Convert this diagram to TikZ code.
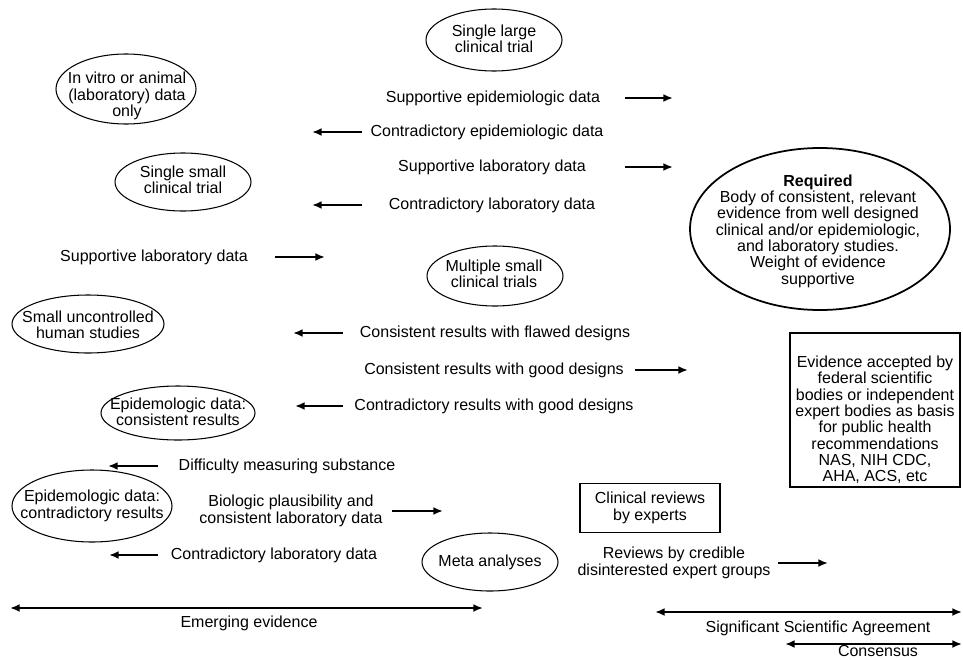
\documentclass[tikz,border=0pt]{standalone}
\usepackage{fontspec}
\setmainfont{Liberation Sans}
\usetikzlibrary{arrows.meta, calc}

\begin{document}
\begin{tikzpicture}[
    x=0.02cm, y=-0.02cm, >={Latex[length=5.5pt, width=4.5pt]},
    txt/.style={align=center, inner sep=0pt, font=\fontsize{9.1}{9.3}\selectfont},
    rim/.style={draw, line width=0.6pt},
    arr/.style={->, line width=1.1pt},
    span/.style={<->, line width=1.1pt},
    frame/.style={draw, line width=1.1pt}
]
    \useasboundingbox (0,0) rectangle (963,659);

    \node[txt] (large) at (494,39) {Single large\\clinical trial};
    \node[txt] (vitro) at (127,96) {In vitro or animal\\(laboratory) data\\only};
    \node[txt] (small) at (183,180) {Single small\\clinical trial};
    \node[txt] (multi) at (494,274) {Multiple small\\clinical trials};
    \node[txt] (human) at (88,325) {Small uncontrolled\\human studies};
    \node[txt] (epicon) at (178,412) {Epidemologic data:\\consistent results};
    \node[txt] (epicontra) at (92,506) {Epidemologic data:\\contradictory results};
    \node[txt] (meta) at (490,562) {Meta analyses};
    \node[txt] (req) at (818,231) {\textbf{Required}\\Body of consistent, relevant\\evidence from well designed\\clinical and/or epidemiologic,\\and laboratory studies.\\Weight of evidence\\supportive};

    \foreach \n/\dx/\dy/\rx/\ry in {large/0/1/68/31, vitro/-1/-7/70/35, small/0/2/68/29,
        multi/1/2/68/30, human/0/-1/76/29, epicon/0/1/77/27, epicontra/0/0/80/36,
        meta/0/0/68/29}
        \draw[rim] ($(\n)+(\dx,\dy)$) ellipse [x radius=\rx, y radius=\ry];
    \draw[rim, line width=1pt] ($(req)+(2,-2)$) ellipse [x radius=130, y radius=81];

    \node[txt] (accept) at (875,420) {Evidence accepted by\\federal scientific\\bodies or independent\\expert bodies as basis\\for public health\\recommendations\\NAS, NIH CDC,\\AHA, ACS, etc};
    \draw[frame] ($(accept)+(-85,-87)$) rectangle ($(accept)+(85,67)$);
    \node[txt, frame, minimum width=2.8cm, minimum height=0.98cm] (review) at (650,508) {Clinical reviews\\by experts};

    \node[txt] (sepi) at (493,98) {Supportive epidemiologic data};
    \node[txt] (cepi) at (487,132) {Contradictory epidemiologic data};
    \node[txt] (slab) at (492,167) {Supportive laboratory data};
    \node[txt] (clab) at (492,205) {Contradictory laboratory data};
    \node[txt] (slab2) at (154,257) {Supportive laboratory data};
    \node[txt] (flaw) at (495,333) {Consistent results with flawed designs};
    \node[txt] (good) at (494,370) {Consistent results with good designs};
    \node[txt] (cgood) at (494,406) {Contradictory results with good designs};
    \node[txt] (measure) at (287,466) {Difficulty measuring substance};
    \node[txt] (bio) at (291,511) {Biologic plausibility and\\consistent laboratory data};
    \node[txt] (clab2) at (274,555) {Contradictory laboratory data};
    \node[txt] (credible) at (674,563) {Reviews by credible\\disinterested expert groups};

    \coordinate (r1) at (625,0);
    \coordinate (r2) at (635,0);
    \coordinate (r3) at (275,0);
    \coordinate (r4) at (392,0);
    \coordinate (r5) at (778,0);
    \coordinate (l1) at (362,0);
    \coordinate (l2) at (343,0);
    \coordinate (l3) at (158,0);

    \draw[arr] (sepi -| r1) -- ++(48,0);
    \draw[arr] (slab -| r1) -- ++(48,0);
    \draw[arr] (good -| r2) -- ++(53,0);
    \draw[arr] (slab2 -| r3) -- ++(50,0);
    \draw[arr] (bio -| r4) -- ++(51,0);
    \draw[arr] (credible -| r5) -- ++(50,0);
    \draw[arr] (cepi -| l1) -- ++(-50,0);
    \draw[arr] (clab -| l1) -- ++(-50,0);
    \draw[arr] (flaw -| l2) -- ++(-50,0);
    \draw[arr] (cgood -| l2) -- ++(-48,0);
    \draw[arr] (measure -| l3) -- ++(-50,0);
    \draw[arr] (clab2 -| l3) -- ++(-49,0);

    \coordinate (emL) at (10,608);
    \coordinate (emR) at (483,608);
    \coordinate (agL) at (655,612);
    \coordinate (agR) at (962,612);
    \coordinate (coL) at (785,644);
    \coordinate (coR) at (962,644);
    \draw[span] (emL) -- (emR);
    \draw[span] (agL) -- (agR);
    \draw[span] (coL) -- (coR);
    \node[txt] (emerging) at (249,623) {Emerging evidence};
    \node[txt] (agree) at (818,628) {Significant Scientific Agreement};
    \node[txt] (consensus) at (878,651) {Consensus};
\end{tikzpicture}
\end{document}
